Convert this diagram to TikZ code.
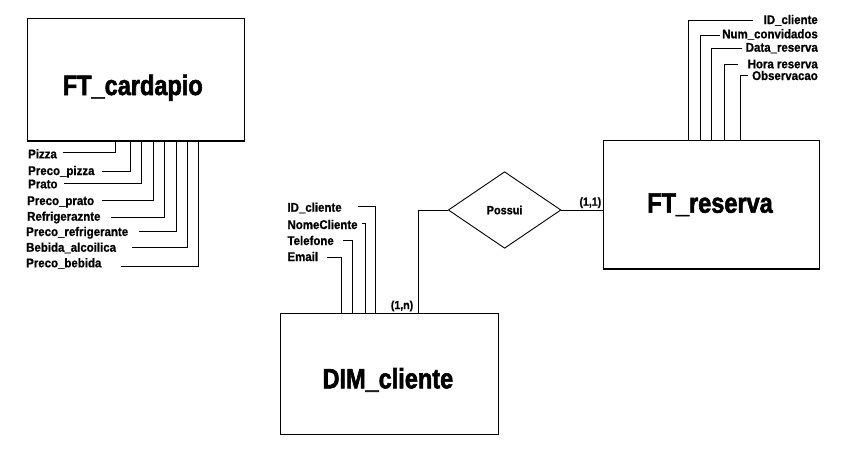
\documentclass[tikz,border=0pt]{standalone}
\usepackage{fontspec}
\setmainfont{Liberation Sans}
\newfontfamily\smallf[FakeStretch=0.91,BoldFeatures={FakeBold=0.8}]{Liberation Sans}
\newfontfamily\bigf[FakeStretch=0.84,BoldFeatures={FakeBold=2}]{Liberation Sans}
\usetikzlibrary{shapes.geometric}
\begin{document}
\begin{tikzpicture}[x=1pt,y=-1pt,
  ent/.style={draw, line width=1.2pt, inner sep=0pt},
  title/.style={font=\bigf\bfseries\fontsize{28}{30}\selectfont, inner sep=0pt, anchor=base},
  attr/.style={font=\smallf\bfseries\fontsize{12.6}{14}\selectfont, inner sep=0pt},
  card/.style={font=\smallf\bfseries\fontsize{11.6}{13}\selectfont, inner sep=0pt, anchor=base west},
  conn/.style={line width=1pt}]
\useasboundingbox (0,0) rectangle (850,463);
\fill[white] (0,0) rectangle (850,463);

% entities
\node[ent, minimum width=217pt, minimum height=122.7pt] (cardb) at (135.8,79.65) {};
\node[title] (cardt) at (132.8,95) {FT\_cardapio};
\node[ent, minimum width=216pt, minimum height=128.3pt] (res) at (711.3,204.85) {};
\node[title] (rest) at (710,212.7) {FT\_reserva};
\node[ent, minimum width=218pt, minimum height=121pt] (dim) at (389.7,373.8) {};
\node[title] (dimt) at (387.85,388.3) {DIM\_cliente};

% relationship
\node[draw, diamond, line width=0.9pt, inner sep=0pt, aspect=1.47,
      minimum width=112.7pt, minimum height=76.6pt,
      font=\smallf\bfseries\fontsize{12}{14}\selectfont] (pos) at (504.6,210) {Possui};
\coordinate (dcx) at (418.3,0);
\draw[conn] (pos.west) -| (dcx |- dim.north);
\draw[conn] (pos.east) -- (pos.east -| res.west);
\node[card] (l11) at (579.3,205.7) {(1,1)};
\node[card] (l1n) at (390.7,309) {(1,n)};

% FT_cardapio attributes
\foreach \i/\t/\bx/\by/\vx/\ly/\lx in {
  1/Pizza/28/158.3/115/152.7/63,
  2/Preco\_pizza/28/175/130.7/171.7/102,
  3/Prato/28/188.3/141.7/183/64.3,
  4/Preco\_prato/27/205/153.3/200/101.7,
  5/Refrigeraznte/27/220.7/164/217.7/110.7,
  6/Preco\_refrigerante/26/236/176/231.7/139,
  7/Bebida\_alcoilica/26/251.7/187.3/247.3/132.3,
  8/Preco\_bebida/26/267.3/198.7/266.7/120.7}{
  \node[attr, anchor=base west] (ca\i) at (\bx,\by) {\t};
  \coordinate (cv\i) at (\vx,0);
  \coordinate (ce\i) at (\lx,\ly);
  \draw[conn] (cv\i |- cardb.south) |- (ce\i);
}

% FT_reserva attributes
\foreach \i/\t/\by/\vx/\ly/\lx in {
  1/ID\_cliente/24/688.3/20/753,
  2/Num\_convidados/38.3/700/35/720,
  3/Data\_reserva/51.7/711.7/48.3/741.7,
  4/Hora reserva/68.3/724.3/64.3/738,
  5/Observacao/80/740.7/75.7/748}{
  \node[attr, anchor=base east] (ra\i) at (818,\by) {\t};
  \coordinate (rv\i) at (\vx,0);
  \coordinate (re\i) at (\lx,\ly);
  \draw[conn] (rv\i |- res.north) |- (re\i);
}

% DIM_cliente attributes
\foreach \i/\t/\by/\vx/\ly/\lx in {
  1/ID\_cliente/211.7/375.7/206.7/358,
  2/NomeCliente/229/365/223.3/362,
  3/Telefone/245/352.7/240/342.7,
  4/Email/261/341.7/257.3/327.3}{
  \node[attr, anchor=base west] (da\i) at (287.3,\by) {\t};
  \coordinate (dv\i) at (\vx,0);
  \coordinate (de\i) at (\lx,\ly);
  \draw[conn] (dv\i |- dim.north) |- (de\i);
}
\end{tikzpicture}
\end{document}
